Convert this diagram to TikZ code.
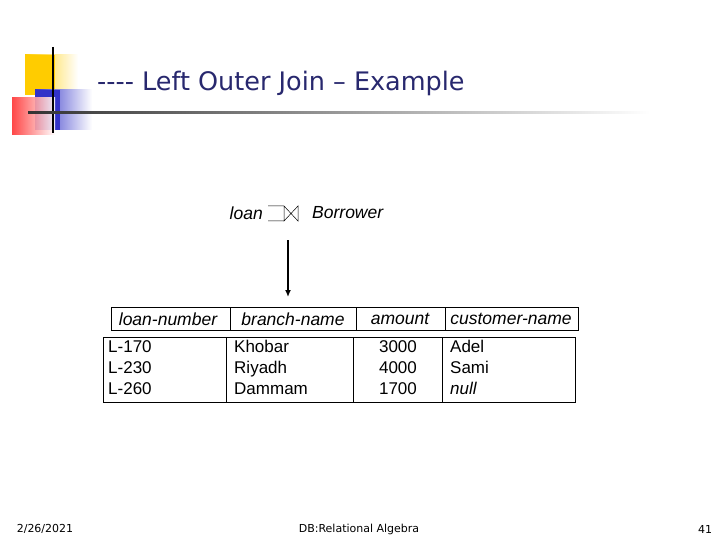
\documentclass[tikz,border=0pt]{standalone}
\usepackage{fontspec}
\setmainfont{Liberation Sans}
\newfontfamily\titlefont{DejaVu Sans}
\usetikzlibrary{arrows.meta}
\definecolor{ttl}{RGB}{40,40,110}
\definecolor{sqy}{RGB}{255,204,0}
\definecolor{sqb}{RGB}{50,50,200}
\tikzset{cell/.style={font=\fontsize{17}{21}\selectfont, inner sep=0pt}, hdr/.style={font=\fontsize{17.5}{19}\selectfont\itshape}, tbl/.style={draw=black, line width=0.6pt}}
\begin{document}
\begin{tikzpicture}[x=1pt,y=-1pt]
\useasboundingbox (0,0) rectangle (720,540);
% decoration
\shade[left color=sqy, right color=white] (25,55) rectangle (78,95);
\fill[sqy] (25,55) rectangle (55,95);
\shade[left color=sqb, right color=white] (35,90) rectangle (92,130);
\fill[sqb] (35,90) rectangle (60,130);
\shade[left color=red!80, right color=white, opacity=0.9] (12,98) rectangle (55,135);
\draw[line width=2.5pt] (53,47) -- (53,133);
\shade[left color=black!80, right color=white] (28,111.5) rectangle (650,114);
\node[anchor=west, text=ttl, font=\titlefont\fontsize{25.5}{28}\selectfont, inner sep=0pt] (title) at (97,83) {---- Left Outer Join – Example};
% expression
\node[hdr, anchor=east, inner sep=0pt] (loan) at (263,213) {loan};
\node[hdr, anchor=west, inner sep=0pt] (bor) at (312,213) {Borrower};
\draw[line width=0.5pt] (268,206) -- (284,206) (268,221) -- (284,221) (284,206) -- (284,221) -- (298,206) -- (298,221) -- (284,206);
\coordinate (a1) at (288,240);
\coordinate (a2) at (288,297);
\draw[line width=1.3pt, -{Latex[length=7pt,width=6pt]}] (a1) -- (a2);
% header
\draw[tbl] (111,307) rectangle (578,330);
\draw[tbl] (230,307) -- (230,330) (356,307) -- (356,330) (445,307) -- (445,330);
\node[hdr] (h1) at (168,319) {loan-number};
\node[hdr] (h2) at (293,319) {branch-name};
\node[hdr] (h3) at (400,319) {amount};
\node[hdr] (h4) at (511,319) {customer-name};
% data
\draw[tbl] (103,337) rectangle (575,402);
\draw[tbl] (226,337) -- (226,402) (353,337) -- (353,402) (442,337) -- (442,402);
\node[cell, anchor=north west, align=left] (c1) at (108,340) {L-170\\L-230\\L-260};
\node[cell, anchor=north west, align=left] (c2) at (234,340) {Khobar\\Riyadh\\Dammam};
\node[cell, anchor=north, align=center] (c3) at (398,340) {3000\\4000\\1700};
\node[cell, anchor=north west, align=left] (c4) at (450,340) {Adel\\Sami\\\textit{null}};
% footer
\node[font=\titlefont\fontsize{11}{13}\selectfont] (d) at (45,529) {2/26/2021};
\node[font=\titlefont\fontsize{11}{13}\selectfont] (m) at (359,529) {DB:Relational Algebra};
\node[font=\titlefont\fontsize{11}{13}\selectfont] (p) at (705,529) {41};
\end{tikzpicture}
\end{document}
